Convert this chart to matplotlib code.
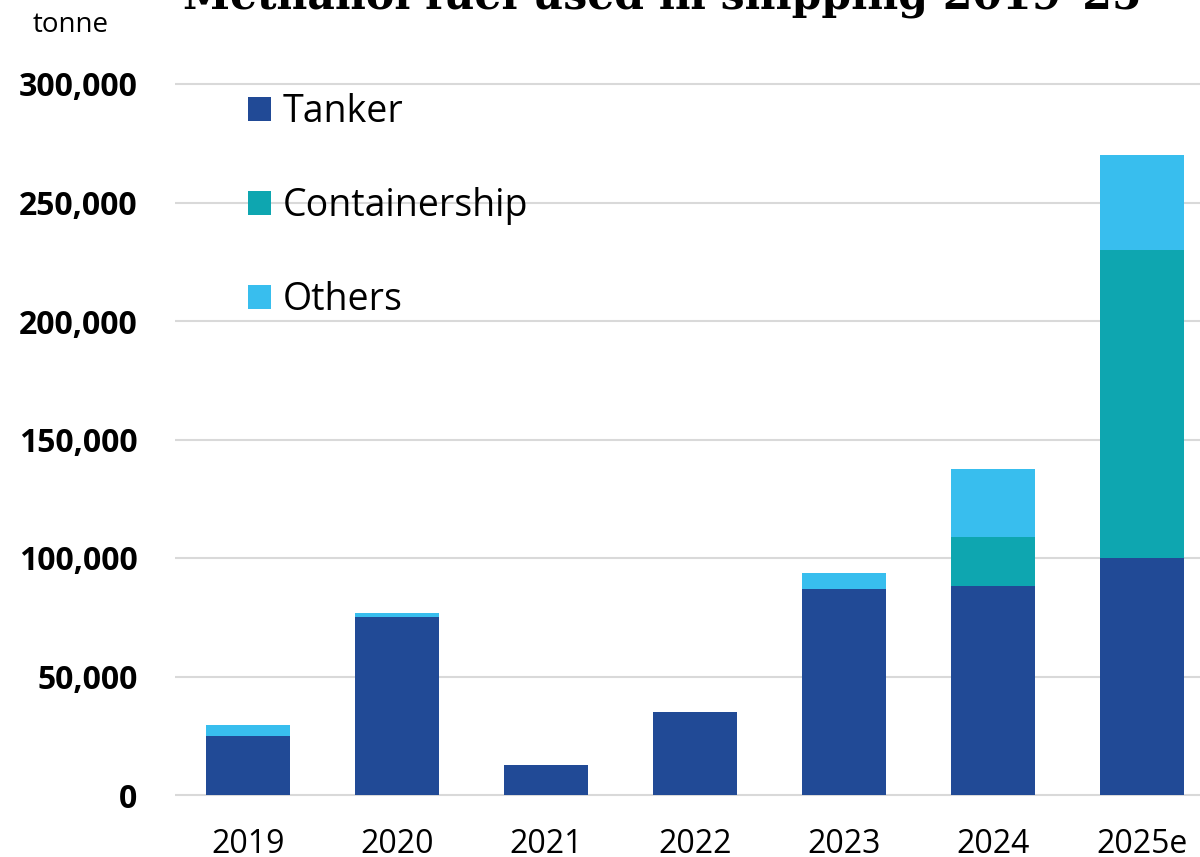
import numpy as np
import matplotlib
matplotlib.use("Agg")
import matplotlib.pyplot as plt
from matplotlib.patches import Patch

plt.rcParams["font.family"] = ["Open Sans", "DejaVu Sans"]

# Methanol bunkered by ship type, tonnes
years = ["2019", "2020", "2021", "2022", "2023", "2024", "2025e"]
tanker = [25000, 75000, 12700, 35000, 87000, 88000, 100000]
containership = [0, 0, 0, 0, 0, 21000, 130000]
others = [4500, 2000, 0, 0, 6700, 28500, 40000]

series_names = ["Tanker", "Containership", "Others"]
colors = ["#214A96", "#0EA6B0", "#38BEEE"]

W, H = 1200, 857
fig = plt.figure(figsize=(W / 100, H / 100), dpi=100)

# axis area in pixels: y=0 sits at 795px, 300,000 at 84px
px_per_unit = (795 - 84) / 300000
y_lo, y_hi = -2000, 305000
bot_px = 795 + (0 - y_lo) * px_per_unit
top_px = 795 - y_hi * px_per_unit
ax = fig.add_axes([175 / W, (H - bot_px) / H, 1 - 175 / W, (bot_px - top_px) / H])

x = np.arange(len(years))
bottom = np.zeros(len(years))
for name, vals, c in zip(series_names, [tanker, containership, others], colors):
    vals = np.array(vals, dtype=float)
    ax.bar(x, vals, width=0.56, bottom=bottom, color=c, linewidth=0, zorder=3)
    bottom += vals

ax.set_xlim(-0.49, 6.39)
ax.set_ylim(y_lo, y_hi)
ax.set_yticks(np.arange(0, 300001, 50000))
ax.yaxis.set_major_formatter(matplotlib.ticker.FuncFormatter(lambda v, p: f"{int(v):,}"))
ax.set_xticks(x)
ax.set_xticklabels(years)

ax.yaxis.grid(True, color="#D9D9D9", linewidth=1.5, zorder=0)
ax.set_axisbelow(True)
for s in ax.spines.values():
    s.set_visible(False)
ax.tick_params(axis="both", length=0)
ax.tick_params(axis="y", pad=27, labelsize=23)
ax.tick_params(axis="x", pad=20, labelsize=23)
for lbl in ax.get_yticklabels():
    lbl.set_fontweight("bold")

handles = [Patch(facecolor=c, edgecolor="none", label=n) for n, c in zip(series_names, colors)]
ax.legend(handles=handles, loc="upper left", bbox_to_anchor=(248 / W, 1 - 93 / H),
          bbox_transform=fig.transFigure, frameon=False, fontsize=27,
          handlelength=0.62, handleheight=0.62, handletextpad=0.3,
          labelspacing=1.5, borderpad=0, borderaxespad=0)

fig.text(33 / W, 1 - 32 / H, "tonne", fontsize=20, va="baseline", ha="left")
fig.text(183 / W, 1 - 9 / H, "Methanol fuel used in shipping 2019\u201325",
         fontsize=30.6, fontweight="bold", family=["DejaVu Serif"],
         va="baseline", ha="left")

fig.savefig("out.png", dpi=100)
